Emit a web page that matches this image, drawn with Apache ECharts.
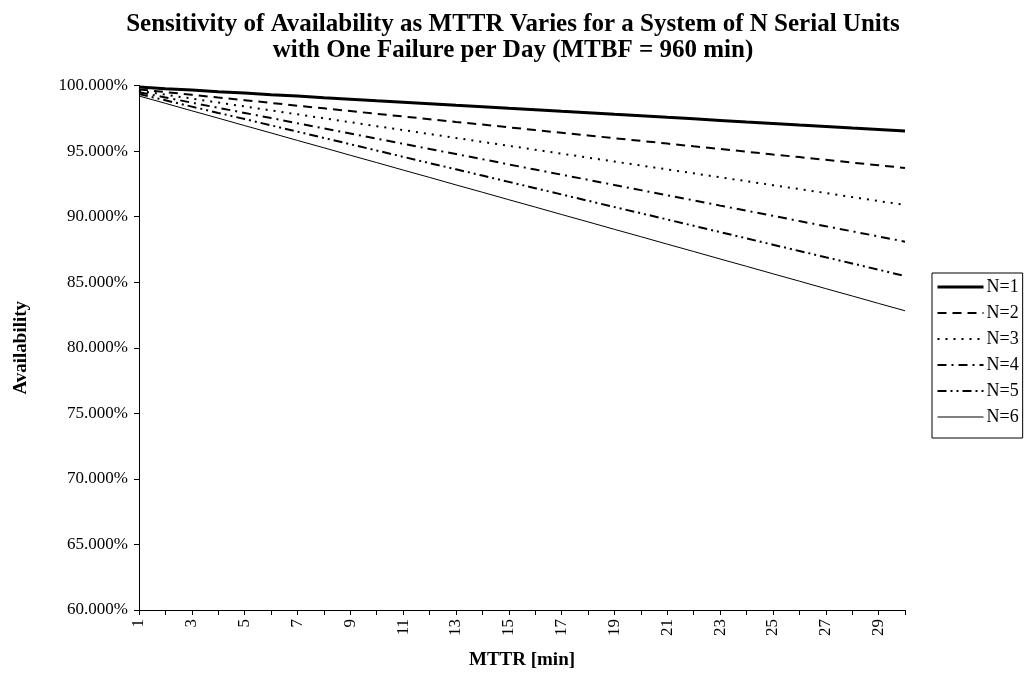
<!DOCTYPE html>
<html>
<head>
<meta charset="utf-8">
<style>
  html, body { margin: 0; padding: 0; background: #ffffff; }
  #chart { width: 1026px; height: 675px; }
</style>
<script src="https://cdn.jsdelivr.net/npm/echarts@6/dist/echarts.min.js"></script>
</head>
<body>
<div id="chart"></div>
<script>
// MTTR in minutes (category axis)
const mttr = [1,2,3,4,5,6,7,8,9,10,11,12,13,14,15,16,17,18,19,20,21,22,23,24,25,26,27,28,29,30];

// Availability (%) for N serial units
const n1 = [99.88,99.76,99.65,99.53,99.42,99.30,99.19,99.07,98.96,98.84,98.73,98.61,98.49,98.38,98.26,
            98.15,98.03,97.92,97.80,97.69,97.57,97.46,97.34,97.22,97.11,96.99,96.88,96.76,96.65,96.53];
const n2 = [99.70,99.50,99.29,99.08,98.88,98.67,98.46,98.26,98.05,97.84,97.64,97.43,97.22,97.02,96.81,
            96.60,96.40,96.19,95.98,95.78,95.57,95.36,95.16,94.95,94.74,94.54,94.33,94.12,93.92,93.71];
const n3 = [99.60,99.30,99.00,98.70,98.40,98.10,97.80,97.50,97.20,96.90,96.60,96.30,96.00,95.70,95.40,
            95.10,94.80,94.50,94.20,93.90,93.60,93.30,93.00,92.70,92.40,92.10,91.80,91.49,91.19,90.89];
const n4 = [99.48,99.09,98.69,98.30,97.91,97.52,97.12,96.73,96.34,95.95,95.55,95.16,94.77,94.38,93.98,
            93.59,93.20,92.81,92.41,92.02,91.63,91.24,90.84,90.45,90.06,89.66,89.27,88.88,88.49,88.09];
const n5 = [99.35,98.87,98.39,97.91,97.44,96.96,96.48,96.00,95.52,95.04,94.56,94.08,93.61,93.13,92.65,
            92.17,91.69,91.21,90.73,90.26,89.78,89.30,88.82,88.34,87.86,87.38,86.90,86.43,85.95,85.47];
const n6 = [99.20,98.64,98.07,97.51,96.94,96.38,95.81,95.25,94.68,94.12,93.55,92.99,92.42,91.86,91.29,
            90.73,90.16,89.60,89.03,88.47,87.90,87.34,86.77,86.21,85.64,85.08,84.51,83.95,83.38,82.82];

const seriesNames = ['N=1','N=2','N=3','N=4','N=5','N=6'];
const seriesData = [n1, n2, n3, n4, n5, n6];

const serif = '"Liberation Serif", "Times New Roman", serif';

// Line looks: thick solid, dashed, dotted, dash-dot, dash-dot-dot, thin solid
const lineLooks = [
  { width: 3,   type: 'solid' },
  { width: 2,   type: [9, 6] },
  { width: 2,   type: [2, 6] },
  { width: 2,   type: [9, 5, 2, 5] },
  { width: 2,   type: [9, 4, 2, 4, 2, 4] },
  { width: 1,   type: 'solid' }
];

const chart = echarts.init(document.getElementById('chart'), null, { renderer: 'canvas' });

chart.setOption({
  backgroundColor: '#ffffff',
  animation: false,
  title: {
    text: 'Sensitivity of Availability as MTTR Varies for a System of N Serial Units\nwith One Failure per Day (MTBF = 960 min)',
    left: 'center',
    top: 7,
    textStyle: {
      fontFamily: serif,
      fontWeight: 'bold',
      fontSize: 25,
      lineHeight: 26,
      color: '#000'
    }
  },
  legend: {
    orient: 'vertical',
    left: 932,
    top: 273,
    padding: [5, 4, 12, 4],
    itemWidth: 46,
    itemHeight: 14,
    itemGap: 8,
    borderColor: '#000',
    borderWidth: 1,
    borderRadius: 0,
    itemStyle: { opacity: 0 },
    data: seriesNames.map((n, i) => ({
      name: n,
      lineStyle: { color: '#000', width: lineLooks[i].width, type: lineLooks[i].type }
    })),
    textStyle: { fontFamily: serif, fontSize: 18, color: '#000', padding: [0, 0, 0, -2] }
  },
  grid: {
    left: 139,
    right: 121,
    top: 85.5,
    bottom: 65,
    containLabel: false
  },
  xAxis: {
    type: 'category',
    data: mttr,
    boundaryGap: false,
    name: 'MTTR [min]',
    nameLocation: 'middle',
    nameGap: 41,
    nameTextStyle: { fontFamily: serif, fontWeight: 'bold', fontSize: 19, color: '#000' },
    axisLine: { lineStyle: { color: '#000', width: 1 } },
    axisTick: { show: true, interval: 0, length: 5, lineStyle: { color: '#000' } },
    axisLabel: {
      interval: 1,
      rotate: 90,
      margin: 9,
      fontFamily: serif,
      fontSize: 17,
      color: '#000'
    },
    splitLine: { show: false }
  },
  yAxis: {
    type: 'value',
    min: 60,
    max: 100,
    interval: 5,
    name: 'Availability',
    nameLocation: 'middle',
    nameGap: 108,
    nameTextStyle: { fontFamily: serif, fontWeight: 'bold', fontSize: 19, color: '#000' },
    axisLine: { show: true, lineStyle: { color: '#000', width: 1 } },
    axisTick: { show: true, length: 5, lineStyle: { color: '#000' } },
    axisLabel: {
      margin: 11,
      fontFamily: serif,
      fontSize: 17,
      color: '#000',
      formatter: v => v.toFixed(3) + '%'
    },
    splitLine: { show: false }
  },
  series: seriesData.map((d, i) => ({
    name: seriesNames[i],
    type: 'line',
    data: d,
    symbol: 'none',
    smooth: false,
    color: '#000',
    lineStyle: { color: '#000', width: lineLooks[i].width, type: lineLooks[i].type }
  }))
});
</script>
</body>
</html>
